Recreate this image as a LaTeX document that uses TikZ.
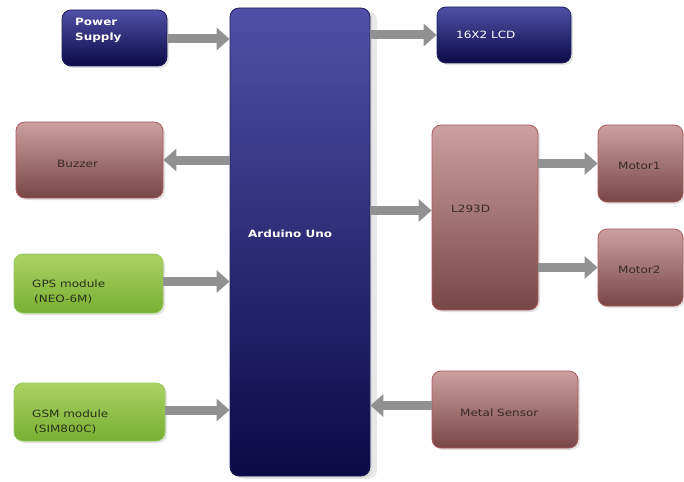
\documentclass[tikz,border=0pt]{standalone}
\usepackage{fontspec}
\setmainfont{DejaVu Sans}[FakeStretch=1.2]
\usetikzlibrary{shadows,arrows.meta}
\definecolor{bltop}{RGB}{80,80,168}
\definecolor{blbot}{RGB}{10,10,70}
\definecolor{bledge}{RGB}{30,30,90}
\definecolor{rdtop}{RGB}{204,160,160}
\definecolor{rdbot}{RGB}{120,70,70}
\definecolor{rdedge}{RGB}{170,90,90}
\definecolor{grtop}{RGB}{170,210,100}
\definecolor{grbot}{RGB}{120,175,50}
\definecolor{gredge}{RGB}{150,200,90}
\definecolor{arrgray}{RGB}{145,145,145}
\definecolor{rdtext}{RGB}{60,40,40}
\definecolor{grtext}{RGB}{40,50,25}
\begin{document}
\begin{tikzpicture}[x=1pt,y=1pt,
  box/.style={rounded corners=9pt, line width=0.8pt, inner sep=0pt,
    drop shadow={shadow xshift=2pt, shadow yshift=-2pt, fill=gray!45}},
  bluebox/.style={box, draw=bledge, top color=bltop, bottom color=blbot},
  redbox/.style={box, draw=rdedge, top color=rdtop, bottom color=rdbot},
  greenbox/.style={box, draw=gredge, top color=grtop, bottom color=grbot},
  lbl/.style={anchor=west, inner sep=0pt, align=left,
    font=\fontsize{10}{15}\selectfont},
  conn/.style={draw=arrgray, line width=9pt,
    -{Triangle[length=13pt,width=22pt]}}]
\useasboundingbox (0,0) rectangle (684,-481);
% blocks
\node[bluebox, minimum width=140, minimum height=468,
  drop shadow={shadow xshift=7pt, shadow yshift=-3pt, fill=gray!35}] (uno) at (300,-242) {};
\node[bluebox, minimum width=105, minimum height=56] (pwr) at (114.5,-38) {};
\node[bluebox, minimum width=134, minimum height=56] (lcd) at (504,-35) {};
\node[redbox, minimum width=147, minimum height=76] (buz) at (89.5,-160) {};
\node[redbox, minimum width=106, minimum height=185] (drv) at (485,-217.5) {};
\node[redbox, minimum width=85, minimum height=77] (mot1) at (640.5,-163.5) {};
\node[redbox, minimum width=85, minimum height=77] (mot2) at (640.5,-267.5) {};
\node[greenbox, minimum width=149, minimum height=59] (gps) at (88.5,-283.5) {};
\node[greenbox, minimum width=151, minimum height=58] (gsm) at (89.5,-412) {};
\node[redbox, minimum width=146, minimum height=77] (metal) at (505,-409.5) {};
% texts
\begin{scope}[every node/.style={lbl, text=white}]
\node[font=\fontsize{10}{15}\selectfont\bfseries] (pwrt) at (75,-30) {Power\\Supply};
\node (lcdt) at (456,-35) {16X2 LCD};
\node[font=\fontsize{10}{15}\selectfont\bfseries] (unot) at (248,-234) {Arduino Uno};
\end{scope}
\begin{scope}[every node/.style={lbl, text=rdtext}]
\node (buzt) at (57,-164) {Buzzer};
\node (drvt) at (451,-209) {L293D};
\node (mot1t) at (618,-166) {Motor1};
\node (mot2t) at (618,-270) {Motor2};
\node (metalt) at (460,-413) {Metal Sensor};
\end{scope}
\begin{scope}[every node/.style={lbl, text=grtext}]
\node (gpst) at (32,-292) {GPS module\\\hspace{2pt}(NEO-6M)};
\node (gsmt) at (32,-422) {GSM module\\\hspace{2pt}(SIM800C)};
\end{scope}
% arrows
\draw[conn] ([yshift=-1]pwr.east) -- ([yshift=-1]pwr.east -| uno.west);
\draw[conn] (lcd.west -| uno.east) -- (lcd.west);
\draw[conn] (buz.east -| uno.west) -- (buz.east);
\draw[conn] ([yshift=7]drv.west -| uno.east) -- ([yshift=7]drv.west);
\draw[conn] (mot1.west -| drv.east) -- (mot1.west);
\draw[conn] (mot2.west -| drv.east) -- (mot2.west);
\draw[conn] ([yshift=2]gps.east) -- ([yshift=2]gps.east -| uno.west);
\draw[conn] ([yshift=2]gsm.east) -- ([yshift=2]gsm.east -| uno.west);
\draw[conn] ([yshift=4]metal.west) -- ([yshift=4]metal.west -| uno.east);
\end{tikzpicture}
\end{document}
